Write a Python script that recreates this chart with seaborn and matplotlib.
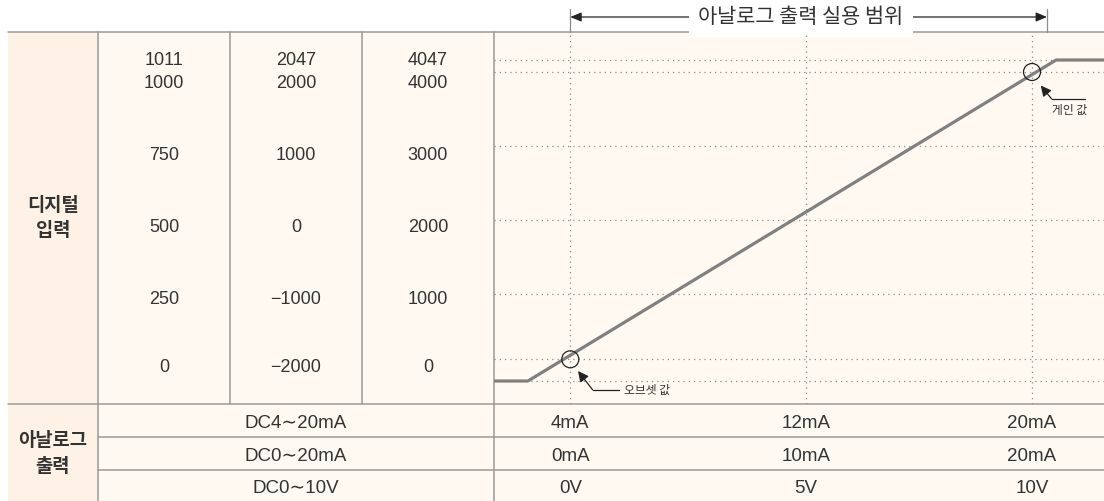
import numpy as np
import matplotlib
matplotlib.use("Agg")
import matplotlib.pyplot as plt
from matplotlib.patches import Rectangle
from matplotlib import transforms
import seaborn as sns

# Digital input values for the three resolutions (top row first)
digital_1000 = [1011, 1000, 750, 500, 250, 0]
digital_2000 = [2047, 2000, 1000, 0, -1000, -2000]
digital_4000 = [4047, 4000, 3000, 2000, 1000, 0]
digital_low_clamp = -12

# Analog output ranges and the output values at the offset / mid / gain points
output_ranges = ["DC4\u223c20mA", "DC0\u223c20mA", "DC0\u223c10V"]
output_ticks_ma = [4, 12, 20]
output_tick_labels = [
    ["4mA", "12mA", "20mA"],
    ["0mA", "10mA", "20mA"],
    ["0V", "5V", "10V"],
]

# Conversion characteristic: output (4~20 mA range) against digital input
curve_ma = [1.0, 2.56, 20.85, 23.0]
curve_digital = [-12, -12, 1011, 1011]
offset_point = (4, 0)
gain_point = (20, 1000)
usable_range_ma = [4, 20.53]

# ---------------------------------------------------------------- layout
W, H = 1104, 501
TABLE_LEFT, TABLE_TOP = 8, 32
COL_X = [98, 230, 362, 494]
DIGITAL_BOTTOM = 404
OUT_ROW_Y = [404, 437, 470, 501]
DIGIT_ROW_Y = [58, 81, 154, 226, 297, 366]
OUT_TEXT_Y = [422, 454.5, 486.5]

# graph area (pixels) and the drawn position of each digital level
G_LEFT, G_RIGHT, G_TOP, G_BOTTOM = 494, 1104, 32, 404
LEVEL_VALUES = [-12, 0, 250, 500, 750, 1000, 1011]
LEVEL_Y_PX = [381, 359.3, 294, 220, 146, 72, 60]
TICK_X_PX = [570.3, 805.7, 1032]

LINE_C = "#9a9a9a"
TEXT_C = "#333333"
LABEL_BG = "#fdf2e5"
CELL_BG = "#fff9f2"

sns.set_theme(style="white")
plt.rcParams["font.family"] = ["Liberation Sans", "Noto Sans CJK KR", "DejaVu Sans"]
plt.rcParams["axes.unicode_minus"] = True
KR = ["Noto Sans CJK KR", "DejaVu Sans"]


def piecewise(src, dst):
    src = np.asarray(src, float)
    dst = np.asarray(dst, float)
    s0 = (dst[1] - dst[0]) / (src[1] - src[0])
    s1 = (dst[-1] - dst[-2]) / (src[-1] - src[-2])

    def f(v):
        v = np.asarray(v, float)
        out = np.interp(v, src, dst)
        out = np.where(v < src[0], dst[0] + (v - src[0]) * s0, out)
        out = np.where(v > src[-1], dst[-1] + (v - src[-1]) * s1, out)
        return out

    return f


fig = plt.figure(figsize=(W / 100, H / 100), dpi=100)
fig.patch.set_facecolor("white")

# background axes in pixel units for the table frame
bg = fig.add_axes([0, 0, 1, 1])
bg.set_xlim(0, W)
bg.set_ylim(H, 0)
bg.set_axis_off()

bg.add_patch(Rectangle((TABLE_LEFT, TABLE_TOP), COL_X[0] - TABLE_LEFT, H - TABLE_TOP,
                       fc=LABEL_BG, ec="none", zorder=0))
bg.add_patch(Rectangle((COL_X[0], TABLE_TOP), W - COL_X[0], H - TABLE_TOP,
                       fc=CELL_BG, ec="none", zorder=0))

lw_tab = 1.1
bg.plot([TABLE_LEFT, W], [TABLE_TOP, TABLE_TOP], color=LINE_C, lw=lw_tab)
bg.plot([TABLE_LEFT, W], [DIGITAL_BOTTOM, DIGITAL_BOTTOM], color=LINE_C, lw=lw_tab)
for yy in OUT_ROW_Y[1:3]:
    bg.plot([COL_X[0], W], [yy, yy], color=LINE_C, lw=lw_tab)
for xx in (COL_X[0], COL_X[3]):
    bg.plot([xx, xx], [TABLE_TOP, H], color=LINE_C, lw=lw_tab)
for xx in COL_X[1:3]:
    bg.plot([xx, xx], [TABLE_TOP, DIGITAL_BOTTOM], color=LINE_C, lw=lw_tab)

# row headings
bg.text((TABLE_LEFT + COL_X[0]) / 2, (TABLE_TOP + DIGITAL_BOTTOM) / 2, "디지털\n입력",
        ha="center", va="center", fontsize=13.5, fontweight="bold", color=TEXT_C,
        linespacing=1.4, family=KR)
bg.text((TABLE_LEFT + COL_X[0]) / 2, (DIGITAL_BOTTOM + H) / 2 + 1, "아날로그\n출력",
        ha="center", va="center", fontsize=13.5, fontweight="bold", color=TEXT_C,
        linespacing=1.4, family=KR)

# digital value columns
for ci, col in enumerate([digital_1000, digital_2000, digital_4000]):
    cx = (COL_X[ci] + COL_X[ci + 1]) / 2
    for val, yy in zip(col, DIGIT_ROW_Y):
        txt = f"{val}".replace("-", "\u2212")
        bg.text(cx, yy, txt, ha="center", va="center_baseline", fontsize=13,
                color=TEXT_C)

# analog range names
for name, yy in zip(output_ranges, OUT_TEXT_Y):
    bg.text((COL_X[0] + COL_X[3]) / 2, yy, name, ha="center", va="center_baseline",
            fontsize=13.5, color=TEXT_C)

# ---------------------------------------------------------------- graph
ax = fig.add_axes([G_LEFT / W, 1 - G_BOTTOM / H, (G_RIGHT - G_LEFT) / W,
                   (G_BOTTOM - G_TOP) / H])
fx = piecewise(output_ticks_ma, np.array(TICK_X_PX) - G_LEFT)
fx_inv = piecewise(np.array(TICK_X_PX) - G_LEFT, output_ticks_ma)
fy = piecewise(LEVEL_VALUES, G_BOTTOM - np.array(LEVEL_Y_PX))
fy_inv = piecewise(G_BOTTOM - np.array(LEVEL_Y_PX), LEVEL_VALUES)
ax.set_xscale("function", functions=(fx, fx_inv))
ax.set_yscale("function", functions=(fy, fy_inv))
ax.set_xlim(float(fx_inv(0)), float(fx_inv(G_RIGHT - G_LEFT)))
ax.set_ylim(float(fy_inv(0)), float(fy_inv(G_BOTTOM - G_TOP)))
ax.set_axis_off()

dot = dict(color="#8c8c8c", lw=0.9, linestyle=(0, (1, 3.2)), dash_capstyle="butt")
for lvl in digital_1000 + [digital_low_clamp]:
    ax.axhline(lvl, **dot, zorder=1)
for t in output_ticks_ma:
    ax.axvline(t, **dot, zorder=1)

sns.lineplot(x=curve_ma, y=curve_digital, ax=ax, color="#808080", lw=2.3,
             sort=False, estimator=None, zorder=3)
sns.scatterplot(x=[offset_point[0], gain_point[0]], y=[offset_point[1], gain_point[1]],
                ax=ax, s=150, facecolor="none", edgecolor="#222222", linewidth=0.9,
                zorder=4)

# output labels below the graph, aligned with the output ticks
blend = transforms.blended_transform_factory(ax.transData, bg.transData)
for labels, yy in zip(output_tick_labels, OUT_TEXT_Y):
    for t, lab in zip(output_ticks_ma, labels):
        bg.text(t, yy, lab, transform=blend, ha="center", va="center_baseline",
                fontsize=13.5, color=TEXT_C)

# usable output range arrow
arrow_y = 17
for t in usable_range_ma:
    bg.plot([t, t], [9, TABLE_TOP], transform=blend, color="#8c8c8c", lw=0.9)
bg.annotate("", xy=(usable_range_ma[0], arrow_y), xytext=(usable_range_ma[1], arrow_y),
            xycoords=blend, textcoords=blend,
            arrowprops=dict(arrowstyle="<|-|>,head_length=0.6,head_width=0.25",
                            color="#222222", lw=0.9, mutation_scale=11,
                            shrinkA=0, shrinkB=0))
bg.text(801, arrow_y, "아날로그 출력 실용 범위", ha="center", va="center",
        fontsize=15, color=TEXT_C, family=KR,
        bbox=dict(boxstyle="square,pad=0.45", fc="white", ec="none"))


def to_bg(pt):
    return bg.transData.inverted().transform(ax.transData.transform(pt))


def leader(point, tip, bend, end, label, text_xy, ha):
    px, py = to_bg(point)
    bx, by = px + bend[0], py + bend[1]
    bg.plot([bx, px + end[0]], [by, py + end[1]], color="#222222", lw=0.9)
    bg.annotate("", xy=(px + tip[0], py + tip[1]), xytext=(bx, by),
                arrowprops=dict(arrowstyle="-|>,head_length=0.7,head_width=0.35",
                                color="#222222", lw=0.9, mutation_scale=9,
                                shrinkA=0, shrinkB=0))
    bg.text(px + text_xy[0], py + text_xy[1], label, ha=ha, va="center",
            fontsize=8.5, color=TEXT_C, family=KR)


leader(offset_point, (7.7, 11.7), (22.3, 30.5), (49, 30.5), "오브셋 값", (54, 31), "left")
leader(gain_point, (8.7, 13.5), (19.7, 27), (52.7, 27), "게인 값", (37.7, 38), "center")

fig.savefig("out.png", dpi=100, facecolor="white")
